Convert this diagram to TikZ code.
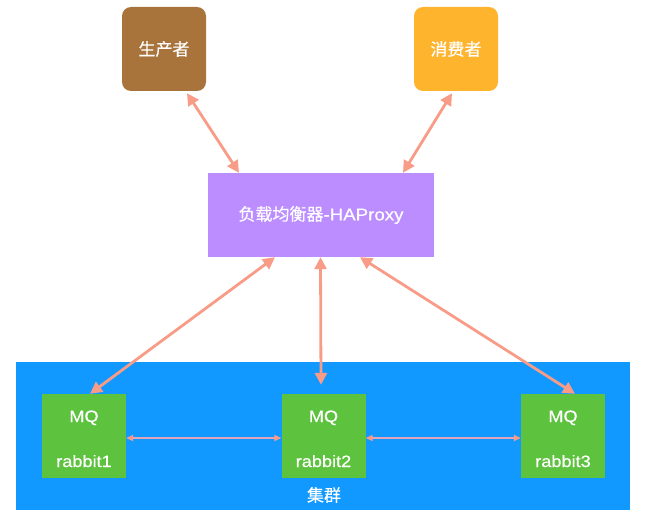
\documentclass[tikz,border=0pt]{standalone}
\usepackage{fontspec}
\setmainfont{Liberation Sans}[FakeStretch=1.1,FakeBold=0.4]
\newfontfamily\cjk{Noto Sans CJK SC}[FakeBold=0.4]
\usetikzlibrary{arrows.meta}
\definecolor{prodc}{HTML}{A8743C}
\definecolor{consc}{HTML}{FFB42E}
\definecolor{hac}{HTML}{BC8DFF}
\definecolor{bluec}{HTML}{1199FF}
\definecolor{greenc}{HTML}{5DC23D}
\definecolor{arrc}{HTML}{F89C88}
\definecolor{thinc}{HTML}{E4A4BC}
\tikzset{
  topbox/.style={rounded corners=9pt, minimum width=84pt, minimum height=84pt, inner sep=0pt, text=white, font=\cjk\fontsize{17}{20}\selectfont},
  habox/.style={minimum width=226pt, minimum height=84pt, inner sep=0pt, fill=hac, text=white, font=\fontsize{17}{20}\selectfont},
  mqbox/.style={minimum width=84pt, minimum height=84pt, inner sep=0pt, fill=greenc},
  mqtext/.style={anchor=base, inner sep=0pt, text=white, font=\fontsize{16.5}{19}\selectfont},
  bigarr/.style={draw=arrc, line width=2.8pt, {Triangle[length=12pt,width=12pt]}-{Triangle[length=12pt,width=12pt]}},
  thinarr/.style={draw=thinc, line width=1.4pt, {Triangle[length=7pt,width=6pt,color=arrc]}-{Triangle[length=7pt,width=6pt,color=arrc]}}
}
\begin{document}
\begin{tikzpicture}[x=1pt,y=-1pt]
\useasboundingbox (0,0) rectangle (646,519);
\fill[bluec] (16,362) rectangle (630,510);
\node[topbox, fill=prodc] (prod) at (164,49) {生产者};
\node[topbox, fill=consc] (cons) at (456,49) {消费者};
\node[habox] (ha) at (321,215) {{\cjk 负载均衡器}-HAProxy};
\node[mqbox] (r1) at (84,436) {};
\node[mqbox] (r2) at (323.5,436) {};
\node[mqbox] (r3) at (563,436) {};
\node[mqtext] (r1a) at ([yshift=14pt]r1.center) {MQ};
\node[mqtext] (r1b) at ([yshift=-31pt]r1.center) {rabbit1};
\node[mqtext] (r2a) at ([yshift=14pt]r2.center) {MQ};
\node[mqtext] (r2b) at ([yshift=-31pt]r2.center) {rabbit2};
\node[mqtext] (r3a) at ([yshift=14pt]r3.center) {MQ};
\node[mqtext] (r3b) at ([yshift=-31pt]r3.center) {rabbit3};
\node[text=white, font=\cjk\fontsize{17}{20}\selectfont] (cl) at (324,495) {集群};
\draw[bigarr] ([xshift=23pt,yshift=-2pt]prod.south) -- ([xshift=-82pt]ha.north);
\draw[bigarr] ([xshift=-4pt,yshift=-2pt]cons.south) -- ([xshift=82pt]ha.north);
\draw[bigarr] ([xshift=-46pt]ha.south) -- ([xshift=6pt]r1.north);
\draw[bigarr] ([xshift=-0.5pt]ha.south) -- ([xshift=-2.5pt,yshift=9pt]r2.north);
\draw[bigarr] ([xshift=39pt]ha.south) -- ([xshift=12pt]r3.north);
\draw[thinarr] ([yshift=-2pt]r1.east) -- ([yshift=-2pt]r2.west);
\draw[thinarr] ([yshift=-2pt]r2.east) -- ([yshift=-2pt]r3.west);
\end{tikzpicture}
\end{document}
